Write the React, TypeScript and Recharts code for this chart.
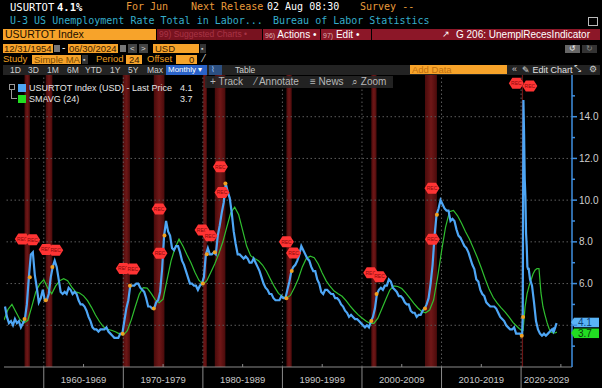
import React from 'react'
import {
  ComposedChart, Line, XAxis, YAxis, ReferenceArea, ReferenceLine, ReferenceDot,
} from 'recharts'

// U-3 unemployment rate, quarterly 1955Q1 .. 2019Q4
const START_YEAR = 1955
const RATE_QUARTERLY = [
  4.9, 4.4, 4.1, 4.2, // 1955
  4.0, 4.3, 4.1, 4.2,
  3.9, 4.1, 4.3, 5.0,
  6.3, 7.4, 7.5, 6.4,
  5.8, 5.1, 5.3, 5.7,
  5.2, 5.2, 5.5, 6.3, // 1960
  6.8, 7.1, 6.8, 6.2,
  5.6, 5.5, 5.6, 5.5,
  5.8, 5.7, 5.5, 5.6,
  5.5, 5.2, 5.0, 5.0,
  4.9, 4.7, 4.4, 4.2, // 1965
  3.9, 3.8, 3.8, 3.7,
  3.8, 3.8, 3.8, 3.9,
  3.7, 3.6, 3.5, 3.4,
  3.4, 3.4, 3.6, 3.6,
  4.2, 4.8, 5.2, 5.9, // 1970
  5.9, 5.9, 6.0, 6.0,
  5.8, 5.7, 5.6, 5.3,
  4.9, 4.9, 4.8, 4.8,
  5.1, 5.2, 5.6, 6.7,
  8.3, 9.0, 8.5, 8.3, // 1975
  7.7, 7.6, 7.8, 7.8,
  7.5, 7.1, 6.9, 6.6,
  6.3, 6.0, 6.0, 5.9,
  5.9, 5.7, 5.9, 6.0,
  6.3, 7.4, 7.7, 7.4, // 1980
  7.4, 7.5, 7.4, 8.3,
  8.8, 9.4, 9.9, 10.8,
  10.4, 10.1, 9.4, 8.5,
  7.9, 7.4, 7.4, 7.3,
  7.2, 7.3, 7.2, 7.0, // 1985
  7.0, 7.2, 7.0, 6.8,
  6.6, 6.3, 6.0, 5.8,
  5.7, 5.5, 5.5, 5.3,
  5.2, 5.2, 5.2, 5.4,
  5.3, 5.3, 5.7, 6.1, // 1990
  6.6, 6.8, 6.9, 7.1,
  7.4, 7.8, 7.6, 7.4,
  7.2, 7.1, 6.8, 6.6,
  6.6, 6.2, 6.0, 5.6,
  5.5, 5.7, 5.7, 5.6, // 1995
  5.5, 5.5, 5.3, 5.3,
  5.2, 5.0, 4.9, 4.7,
  4.6, 4.4, 4.5, 4.4,
  4.3, 4.3, 4.2, 4.1,
  4.0, 3.9, 4.0, 3.9, // 2000
  4.2, 4.4, 4.8, 5.5,
  5.7, 5.8, 5.7, 5.9,
  5.9, 6.2, 6.1, 5.8,
  5.7, 5.6, 5.4, 5.4,
  5.3, 5.1, 5.0, 5.0, // 2005
  4.7, 4.6, 4.6, 4.4,
  4.5, 4.5, 4.7, 4.8,
  5.0, 5.3, 6.0, 6.9,
  8.3, 9.3, 9.6, 10.0,
  9.8, 9.6, 9.5, 9.5, // 2010
  9.0, 9.1, 9.0, 8.6,
  8.3, 8.2, 8.0, 7.8,
  7.7, 7.5, 7.2, 6.9,
  6.7, 6.2, 6.1, 5.7,
  5.5, 5.4, 5.1, 5.0, // 2015
  4.9, 4.9, 4.9, 4.8,
  4.6, 4.4, 4.3, 4.2,
  4.0, 3.9, 3.8, 3.8,
  3.9, 3.6, 3.6, 3.6,
]
const RATE_2020_MONTHLY = [3.5, 3.5, 4.4, 14.8, 13.2, 11.0, 10.2, 8.4, 7.8, 6.8, 6.7, 6.7]
// 2021Q1 .. 2023Q4
const RATE_2021_QUARTERLY = [6.2, 5.9, 5.1, 4.2, 3.8, 3.6, 3.5, 3.6, 3.5, 3.6, 3.7, 3.8]
const RATE_2024_MONTHLY = [3.7, 3.9, 3.8, 3.9, 4.0, 4.1]

// SMAVG (24), every half year from end of 1954 to mid 2019
const SMA_HALF_YEARLY = [
  4.25, 4.76, 5.0, 4.64, 4.28, 4.11, 4.24, 4.91, 5.61, 5.98,
  6.19, 5.78, 5.51, 5.89, 6.14, 6.23, 6.14, 5.84, 5.6, 5.55,
  5.41, 5.18, 4.86, 4.49, 4.18, 3.93, 3.81, 3.76, 3.69, 3.59,
  3.53, 3.74, 4.26, 4.89, 5.49, 5.8, 5.78, 5.53, 5.23, 5.08,
  5.25, 6.19, 7.09, 7.71, 8.13, 7.79, 7.38, 7.0, 6.54, 6.16,
  5.96, 6.14, 6.54, 6.95, 7.43, 7.99, 8.69, 9.39, 9.66, 9.3,
  8.55, 7.8, 7.34, 7.2, 7.09, 6.89, 6.59, 6.21, 5.84, 5.53,
  5.38, 5.3, 5.43, 5.8, 6.23, 6.8, 7.2, 7.31, 7.24, 6.94,
  6.51, 6.13, 5.86, 5.64, 5.51, 5.39, 5.18, 4.93, 4.71, 4.51,
  4.35, 4.21, 4.09, 4.09, 4.34, 4.79, 5.25, 5.69, 5.89, 5.86,
  5.76, 5.55, 5.31, 5.06, 4.84, 4.66, 4.6, 4.73, 5.21, 6.29,
  7.55, 8.69, 9.45, 9.51, 9.26, 8.9, 8.5, 8.14, 7.7, 7.25,
  6.75, 6.21, 5.71, 5.33, 5.06, 4.83, 4.63, 4.39, 4.13, 3.94,
]
// quarterly from Sep 2019 to Jun 2024
const SMA_QUARTERLY_RECENT = [
  3.85, 3.78, 3.75, 4.88, 5.51, 5.88, 6.17, 6.46, 6.64, 6.72,
  6.72, 5.55, 4.89, 4.5, 4.15, 3.86, 3.68, 3.63, 3.63, 3.67,
]

// NBER recessions (decimal years)
const REC_START = [1957.58, 1960.25, 1969.92, 1973.83, 1980.0, 1981.5, 1990.5, 2001.17, 2007.92, 2020.08]
const REC_END = [1958.25, 1961.08, 1970.83, 1975.17, 1980.5, 1982.83, 1991.17, 2001.83, 2009.42, 2020.25]

// REC annotation tags
const TAG_X = [1957.3, 1958.6, 1960.3, 1961.5, 1970.0, 1971.2, 1974.5, 1974.6, 1979.9, 1980.9,
  1982.2, 1982.4, 1990.5, 1991.4, 2001.1, 2002.2, 2008.8, 2008.85, 2019.4, 2021.1]
const TAG_Y = [8.14, 8.1, 7.63, 7.6, 6.72, 6.7, 9.57, 7.45, 8.57, 8.29,
  11.6, 10.37, 8.0, 7.46, 6.52, 6.33, 10.57, 8.12, 15.6, 15.47]

const DECADES = [1960, 1970, 1980, 1990, 2000, 2010, 2020]
const MID_TICKS = [1965, 1975, 1985, 1995, 2005, 2015, 2025]
const DECADE_LABELS = ['1960-1969', '1970-1979', '1980-1989', '1990-1999', '2000-2009', '2010-2019', '2020-2029']
const LABEL_POS = [1965, 1975, 1985, 1995, 2005, 2015, 2023.2]
const Y_TICKS = [3, 4, 5, 6, 7, 8, 9, 10, 11, 12, 13, 14, 15]
const Y_LABELS = [6, 8, 10, 12, 14] // 4.0 sits under the last-value boxes
const Y_GRID = [4, 6, 8, 10, 12, 14]

const LAST_PRICE = 4.1
const LAST_SMA = 3.7

const X_MAX = 2026.4
const BLUE = '#4ea6f5'
const GREEN = '#2fbf2f'
const ORANGE = '#f0a020'

type Pt = { t: number; rate?: number; sma?: number }

function buildData(): Pt[] {
  const rate: Pt[] = []
  RATE_QUARTERLY.forEach((v, i) => rate.push({ t: START_YEAR + i * 0.25 + 0.125, rate: v }))
  RATE_2020_MONTHLY.forEach((v, i) => rate.push({ t: 2020 + (i + 0.5) / 12, rate: v }))
  RATE_2021_QUARTERLY.forEach((v, i) => rate.push({ t: 2021 + i * 0.25 + 0.125, rate: v }))
  RATE_2024_MONTHLY.forEach((v, i) => rate.push({ t: 2024 + (i + 0.5) / 12, rate: v }))
  const sma: Pt[] = []
  SMA_HALF_YEARLY.forEach((v, i) => sma.push({ t: START_YEAR + i * 0.5, sma: v }))
  SMA_QUARTERLY_RECENT.forEach((v, i) => sma.push({ t: 2019.75 + i * 0.25, sma: v }))
  return [...rate, ...sma].sort((a, b) => a.t - b.t)
}

const data = buildData()
const ratePts = data.filter(d => d.rate !== undefined)

function rateAt(t: number) {
  let best = ratePts[0]
  for (const p of ratePts) if (Math.abs(p.t - t) < Math.abs(best.t - t)) best = p
  return best.rate as number
}

const RecTag = (props: any) => {
  const { cx, cy } = props
  const w = 7.5, h = 5.5
  const pts = [
    [cx - w, cy], [cx - w + 3.5, cy - h], [cx + w - 3.5, cy - h],
    [cx + w, cy], [cx + w - 3.5, cy + h], [cx - w + 3.5, cy + h],
  ].map(p => p.join(',')).join(' ')
  return (
    <g>
      <polygon points={pts} fill="#ff3434" />
      <text x={cx} y={cy} dy={1.8} fontSize={5} textAnchor="middle" fill="#8a0a0a" fontFamily="Liberation Sans">REC</text>
    </g>
  )
}

const ValueBox = (props: any) => {
  const { cy, bg, color, label, dy } = props
  const x = 574
  const y = cy + dy
  return (
    <g>
      <polygon points={`${x - 3},${y} ${x},${y - 4.5} ${x},${y + 4.5}`} fill={bg} />
      <rect x={x} y={y - 4.5} width={25} height={9.5} fill={bg} />
      <text x={x + 4} y={y} dy={3.5} fontSize={10} fill={color} fontFamily="Liberation Sans">{label}</text>
    </g>
  )
}

const YTick = (props: any) => {
  const { x, y, payload } = props
  const v = payload.value as number
  const major = v % 2 === 0
  return (
    <g>
      <line x1={x} x2={x + (major ? 5 : 3)} y1={y} y2={y} stroke="#3f8fe0" strokeWidth={1.5} />
      {Y_LABELS.includes(v) && (
        <text x={x + 7} y={y} dy={3.5} fontSize={10} fill="#cfcfcf" fontFamily="Liberation Sans">{v.toFixed(1)}</text>
      )}
    </g>
  )
}

const XTick = (props: any) => {
  const { x, y, payload } = props
  const v = payload.value as number
  const li = LABEL_POS.indexOf(v)
  return (
    <g>
      {DECADES.includes(v) && <line x1={x} x2={x} y1={y} y2={y + 22} stroke="#8a8a8a" strokeWidth={1} />}
      {MID_TICKS.includes(v) && <line x1={x} x2={x} y1={y - 3} y2={y} stroke="#8a8a8a" strokeWidth={1} />}
      {li >= 0 && (
        <text x={x} y={y + 16} textAnchor="middle" fontSize={9.5} fill="#c8c8c8" fontFamily="Liberation Sans">{DECADE_LABELS[li]}</text>
      )}
    </g>
  )
}

const X_TICKS = [...DECADES, ...MID_TICKS, 2023.2].sort((a, b) => a - b)

type BoxProps = { x: number; y: number; w: number; h: number; bg?: string; color?: string; size?: number; bold?: boolean; mono?: boolean; children?: React.ReactNode; pad?: number }
const Box = ({ x, y, w, h, bg, color = '#fff', size = 10, bold, mono, children, pad = 2 }: BoxProps) => (
  <div style={{
    position: 'absolute', left: x, top: y, width: w, height: h, background: bg, color,
    fontSize: size, fontWeight: bold ? 'bold' : 'normal', lineHeight: `${h}px`, paddingLeft: pad,
    boxSizing: 'border-box', whiteSpace: 'nowrap', overflow: 'hidden',
    fontFamily: mono ? '"DejaVu Sans Mono", monospace' : '"Liberation Sans", Arial, sans-serif',
  }}>{children}</div>
)

const T = ({ x, y, color = '#fff', size = 10, bold, mono, children, ls }: { x: number; y: number; color?: string; size?: number; bold?: boolean; mono?: boolean; children?: React.ReactNode; ls?: number }) => (
  <div style={{
    position: 'absolute', left: x, top: y, color, fontSize: size, fontWeight: bold ? 'bold' : 'normal',
    lineHeight: '12px', whiteSpace: 'nowrap', letterSpacing: ls,
    fontFamily: mono ? '"DejaVu Sans Mono", monospace' : '"Liberation Sans", Arial, sans-serif',
  }}>{children}</div>
)

const AMBER = '#e89a3a'
const BOX_OR = '#f7a32a'

function Header() {
  return (
    <>
      {/* row 1 */}
      <T x={10} y={1} mono size={10.5}>USURTOT</T>
      <T x={57} y={1} mono size={10.5} bold>4.1%</T>
      <T x={126} y={1} mono size={10} color={AMBER}>For Jun</T>
      <T x={191} y={1} mono size={10} color={AMBER}>Next Release</T>
      <T x={267} y={1} mono size={10}>02 Aug 08:30</T>
      <T x={360} y={1} mono size={10} color={AMBER}>Survey --</T>
      {/* row 2 */}
      <T x={10} y={15} mono size={10} color="#35aecb">U-3 US Unemployment Rate Total in Labor...</T>
      <T x={273} y={15} mono size={10} color="#35aecb">Bureau of Labor Statistics</T>
      <div style={{ position: 'absolute', left: 588, top: 17, width: 8, height: 7, border: '1px solid #bbb' }} />
      {/* row 3 */}
      <Box x={3} y={29} w={153} h={11} bg={BOX_OR} color="#1a0e00" size={10.5}>USURTOT Index</Box>
      <Box x={157} y={29} w={105} h={11} bg="#78121f" color="#a83446" size={8.5}>99) Suggested Charts •</Box>
      <Box x={263} y={29} w={57} h={11} bg="#8c1728" size={10}><span style={{ fontSize: 7, color: '#d8b0b0' }}>96)</span> Actions •</Box>
      <Box x={321} y={29} w={50} h={11} bg="#8c1728" size={10}><span style={{ fontSize: 7, color: '#d8b0b0' }}>97)</span> Edit •</Box>
      <Box x={372} y={29} w={228} h={11} bg="#8c1728" size={10}>
        <span style={{ position: 'absolute', left: 70, fontSize: 9 }}>↗</span>
        <span style={{ position: 'absolute', left: 84 }}>G 206: UnemplRecesIndicator</span>
      </Box>
      {/* row 4 */}
      <Box x={3} y={44} w={50} h={9} bg={BOX_OR} color="#3a2000" size={9.5} pad={1}>12/31/1954</Box>
      <Box x={54} y={45} w={6} h={7} bg="#777" />
      <T x={62} y={42} size={10}>-</T>
      <Box x={68} y={44} w={50} h={9} bg={BOX_OR} color="#3a2000" size={9.5} pad={1}>06/30/2024</Box>
      <Box x={120} y={45} w={6} h={7} bg="#777" />
      <Box x={128} y={44} w={9} h={9} bg="#444" color="#ddd" size={8} pad={2}>&lt;</Box>
      <Box x={139} y={44} w={9} h={9} bg="#444" color="#ddd" size={8} pad={2}>&gt;</Box>
      <Box x={153} y={44} w={46} h={9} bg={BOX_OR} color="#3a2000" size={9.5}>USD</Box>
      <Box x={200} y={44} w={6} h={9} bg="#333" color="#ccc" size={7} pad={1}>▪</Box>
      <Box x={565} y={45} w={15} h={8} bg="#666" color="#eee" size={8} pad={4}>↺</Box>
      <Box x={582} y={45} w={15} h={8} bg="#333" color="#888" size={8} pad={4}>↻</Box>
      {/* row 5 */}
      <T x={3} y={53} size={9.5} color={ORANGE}>Study</T>
      <Box x={32} y={55} w={49} h={9} bg={BOX_OR} color="#7a4a00" size={9.5}>Simple MA</Box>
      <Box x={82} y={55} w={6} h={9} bg="#333" color="#ccc" size={7} pad={1}>▪</Box>
      <T x={96} y={53} size={9.5} color={ORANGE}>Period</T>
      <Box x={126} y={55} w={16} h={9} bg={BOX_OR} color="#3a2000" size={9.5} pad={3}>24</Box>
      <T x={147} y={53} size={9.5} color={ORANGE}>Offset</T>
      <Box x={176} y={55} w={21} h={9} bg={BOX_OR} color="#3a2000" size={9.5} pad={13}>0</Box>
      <T x={203} y={53} size={10} color="#ddd">⁄</T>
      {/* row 6 */}
      <Box x={3} y={65} w={597} h={10} bg="#232323" />
      {[['1D', 10], ['3D', 28], ['1M', 47], ['6M', 67], ['YTD', 85], ['1Y', 110], ['5Y', 128], ['Max', 147]].map(([s, x]) => (
        <T key={s as string} x={x as number} y={64} size={8.5} color="#d0d0d0">{s}</T>
      ))}
      <Box x={166} y={65} w={41} h={10} bg="#2a63c9" size={8} pad={2}>Monthly ▾</Box>
      <Box x={209} y={65} w={13} h={10} bg="#2c4f80" color="#9cc4ff" size={8} pad={2}>⌇</Box>
      <T x={235} y={64} size={8.5} color="#d0d0d0">Table</T>
      <Box x={410} y={65} w={97} h={9} bg={BOX_OR} color="#c07010" size={9.5}>Add Data</Box>
      <T x={512} y={63} size={9} color="#ccc">«</T>
      <T x={522} y={64} size={9} color="#e0e0e0">✎ Edit Chart</T>
      <T x={574} y={63} size={9} color="#ccc">⤡</T>
      <T x={589} y={63} size={9} color="#ccc">⚙</T>
      {/* chart toolbar */}
      <div style={{ position: 'absolute', left: 205, top: 76, width: 188, height: 12, background: 'rgba(40,40,40,0.85)' }} />
      <T x={210} y={76} size={10} color="#b8b8b8">+ Track</T>
      <T x={255} y={76} size={10} color="#b8b8b8">⁄ Annotate</T>
      <T x={310} y={76} size={10} color="#b8b8b8">≡ News</T>
      <T x={352} y={76} size={10} color="#b8b8b8">⌕ Zoom</T>
      {/* legend */}
      <div style={{ position: 'absolute', left: 11, top: 86, width: 5, height: 12, borderLeft: '1px solid #999', borderBottom: '1px solid #999' }} />
      <div style={{ position: 'absolute', left: 9, top: 84, width: 4, height: 4, border: '1px solid #999', background: '#000' }} />
      <div style={{ position: 'absolute', left: 18, top: 84, width: 8, height: 8, background: BLUE }} />
      <T x={29} y={82} size={9} color="#e6e6e6">USURTOT Index (USD) - Last Price</T>
      <T x={180} y={82} size={9} color="#e6e6e6">{LAST_PRICE.toFixed(1)}</T>
      <div style={{ position: 'absolute', left: 18, top: 95, width: 8, height: 8, background: '#22dd22' }} />
      <T x={29} y={93} size={9} color="#e6e6e6">SMAVG (24)</T>
      <T x={180} y={93} size={9} color="#e6e6e6">{LAST_SMA.toFixed(1)}</T>
    </>
  )
}

export default function App() {
  return (
    <div style={{ position: 'relative', width: 602, height: 388, background: '#000', overflow: 'hidden' }}>
      <style>{'body{margin:0;background:#000}'}</style>
      <div style={{ position: 'absolute', left: 0, top: 0 }}>
        <ComposedChart width={602} height={388} data={data} margin={{ top: 75, right: 0, bottom: 0, left: 4 }}>
          <defs>
            <linearGradient id="recGrad" x1="0" y1="0" x2="1" y2="0">
              <stop offset="0%" stopColor="#4a0b0b" />
              <stop offset="50%" stopColor="#6f1717" />
              <stop offset="100%" stopColor="#4a0b0b" />
            </linearGradient>
          </defs>
          <XAxis
            dataKey="t" type="number" domain={[START_YEAR, X_MAX]} ticks={X_TICKS} interval={0}
            tick={<XTick />} tickLine={false} tickSize={0} tickMargin={0} height={21}
            axisLine={{ stroke: '#8a8a8a' }} allowDataOverflow
          />
          <YAxis
            orientation="right" type="number" domain={[2, 16]} ticks={Y_TICKS} interval={0}
            tick={<YTick />} tickLine={false} tickSize={0} tickMargin={0} width={30}
            axisLine={{ stroke: '#3f8fe0', strokeWidth: 1.5 }} allowDataOverflow
          />
          {REC_START.map((s, i) => (
            <ReferenceArea key={'r' + i} x1={s} x2={REC_END[i]} fill="url(#recGrad)" fillOpacity={1} stroke="none" ifOverflow="hidden" />
          ))}
          {Y_GRID.map(v => (
            <ReferenceLine key={'h' + v} y={v} stroke="#5c5c5c" strokeDasharray="1.5 2.5" />
          ))}
          {DECADES.map(v => (
            <ReferenceLine key={'v' + v} x={v} stroke="#5c5c5c" strokeDasharray="1.5 2.5" />
          ))}
          <Line dataKey="sma" stroke={GREEN} strokeWidth={1.2} dot={false} connectNulls isAnimationActive={false} type="linear" />
          <Line dataKey="rate" stroke={BLUE} strokeWidth={2.2} dot={false} connectNulls isAnimationActive={false} type="linear" />
          {[...REC_START, ...REC_END].map((t, i) => (
            <ReferenceDot key={'o' + i} x={t} y={rateAt(t)} r={2} fill={ORANGE} stroke="none" />
          ))}
          {TAG_X.map((t, i) => (
            <ReferenceDot key={'g' + i} x={t} y={TAG_Y[i]} r={6} shape={<RecTag />} ifOverflow="visible" />
          ))}
          <ReferenceDot x={X_MAX} y={LAST_PRICE} r={1} ifOverflow="visible"
            shape={<ValueBox bg="#5ab4f7" color="#0d3e78" label={LAST_PRICE.toFixed(1)} dy={-1} />} />
          <ReferenceDot x={X_MAX} y={LAST_SMA} r={1} ifOverflow="visible"
            shape={<ValueBox bg="#22dd22" color="#0a3a0a" label={LAST_SMA.toFixed(1)} dy={1.5} />} />
        </ComposedChart>
      </div>
      <Header />
    </div>
  )
}
